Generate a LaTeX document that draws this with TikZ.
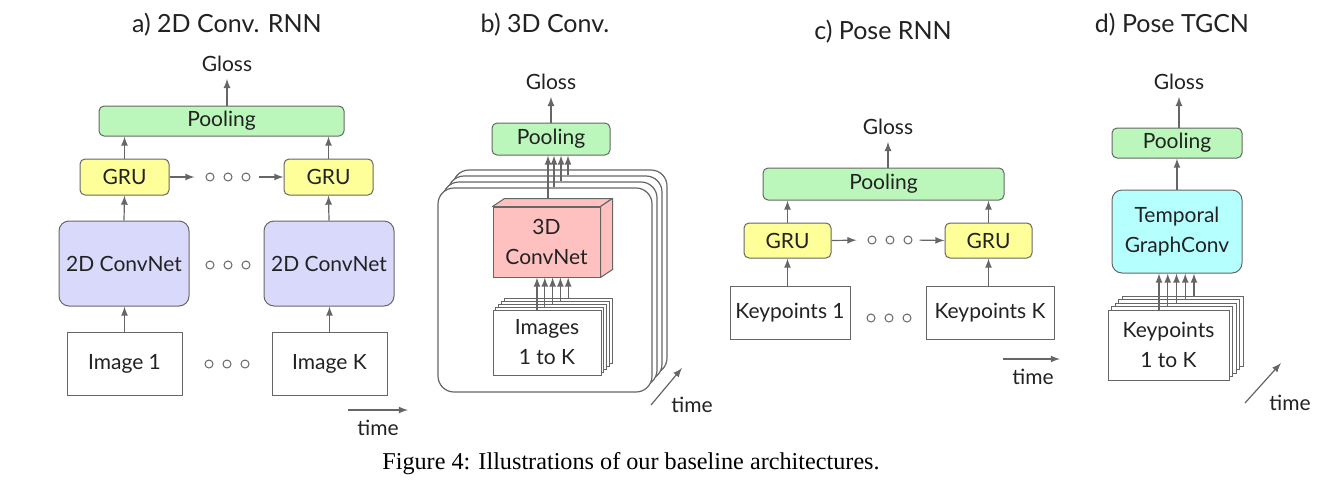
\documentclass[tikz,border=0pt]{standalone}
\usepackage{fontspec}
\setmainfont{Lato}
\newfontfamily\capfont{Liberation Serif}
\usetikzlibrary{calc,arrows}

\definecolor{poolgreen}{RGB}{187,247,187}
\definecolor{gruyellow}{RGB}{255,255,153}
\definecolor{convblue}{RGB}{217,217,252}
\definecolor{convred}{RGB}{255,192,192}
\definecolor{graphcyan}{RGB}{181,255,255}
\definecolor{edgegray}{RGB}{102,102,102}
\definecolor{txt}{RGB}{34,34,34}

\begin{document}
\begin{tikzpicture}[x=0.5pt,y=-0.5pt,
    every node/.style={font=\fontsize{10.5}{15}\selectfont,text=txt},
    box/.style={draw=edgegray,line width=0.5pt,inner sep=0pt,align=center},
    pool/.style={box,fill=poolgreen,rounded corners=2.5pt,minimum height=15pt},
    gru/.style={box,fill=gruyellow,rounded corners=2.5pt,minimum width=44.5pt,minimum height=18pt},
    convnet/.style={box,fill=convblue,rounded corners=5pt,minimum width=65pt,minimum height=42.5pt},
    inbox/.style={box,fill=white,minimum height=31.5pt},
    sheet/.style={box,fill=white},
    stackframe/.style={draw=edgegray,line width=0.6pt,fill=white,rounded corners=8pt,
      minimum width=107pt,minimum height=102pt,inner sep=0pt},
    ttl/.style={font=\fontsize{12.5}{15}\selectfont},
    ring/.style={circle,draw=edgegray,line width=0.5pt,minimum size=4pt,inner sep=0pt},
    arr/.style={-latex,draw=edgegray,line width=0.6pt}]
                 \useasboundingbox (0,0) rectangle (1318,483);
                 % a) 2D Conv. RNN
                 \node[ttl](ta)at(227,25){a) 2D Conv. RNN};
                 \node(glossa)at(227,64){Gloss};
                 \node[pool,minimum width=122.5pt](poola)at(221.5,121){Pooling};
                 \node[gru](grua1)at(124.5,177){GRU};
                 \node[gru](grua2)at(328.5,177){GRU};
                 \node[convnet](conva1)at(124,263.5){2D ConvNet};
                 \node[convnet](conva2)at(329,263.5){2D ConvNet};
                 \node[inbox,minimum width=57.5pt](imga1)at(124.5,363.5){Image 1};
                 \node[inbox,minimum width=57.5pt](imga2)at(329.5,363.5){Image K};
                 \foreach \i/\x in {1/210,2/228,3/246}{
                   \node[ring](ga\i)at(\x,177){};
                   \node[ring](ca\i)at(\x,265){};
                   \node[ring](ia\i)at(\x-1,364){};
                 }
                 \draw[arr](poola.north-|glossa)--(glossa.south);
                 \draw[arr](grua1.north)--(grua1.north|-poola.south);
                 \draw[arr](grua2.north)--(grua2.north|-poola.south);
                 \draw[arr](conva1.north)--(grua1.south);
                 \draw[arr](conva2.north)--(grua2.south);
                 \draw[arr](imga1.north)--(imga1.north|-conva1.south);
                 \draw[arr](imga2.north)--(imga2.north|-conva2.south);
                 \draw[arr,shorten >=5.5pt](grua1.east)--(ga1.west);
                 \draw[arr,shorten <=4pt](ga3.east)--(grua2.west);
                 \coordinate(ta0)at(348,410);
                 \coordinate(ta1)at(408,410);
                 \draw[arr](ta0)--(ta1);
                 \node(timea)at(378,428){time};
                 % b) 3D Conv.
                 \node[ttl](tb)at(545,25){b) 3D Conv.};
                 \node(glossb)at(551,82){Gloss};
                 \node[pool,minimum width=59pt,minimum height=16pt](poolb)at(551,139){Pooling};
                 \foreach \k in {3,2,1,0}
                   \node[stackframe](frb\k)at(545+5*\k,290-6*\k){};
                 \node[box,fill=convred,minimum width=53.5pt,minimum height=35pt](cnnb)at(546.5,242){3D\\ConvNet};
                 \draw[fill=convred,draw=edgegray,line width=0.5pt,line join=round](cnnb.north west)--++(12,-8)--($(cnnb.north east)+(12,-8)$)--(cnnb.north east)--cycle;
                 \draw[fill=convred,draw=edgegray,line width=0.5pt,line join=round](cnnb.north east)--++(12,-8)--($(cnnb.south east)+(12,-8)$)--(cnnb.south east)--cycle;
                 \foreach \k in {4,...,1}
                   \node[sheet,minimum width=54pt,minimum height=32.5pt](imgb\k)at(547+2.8*\k,342.5-3*\k){};
                 \node[sheet,minimum width=54pt,minimum height=32.5pt](imgb0)at(547,342.5){Images\\1 to K};
                 \foreach \k in {0,...,4}
                   \draw[arr]([xshift={(-5+2.5*\k)*1pt}]imgb\k.north)coordinate(sb\k)--(sb\k|-cnnb.south);
                 \coordinate(cnntop)at($(cnnb.north)+(1.5,-8)$);
                 \draw[arr](cnntop)--(cnntop|-poolb.south);
                 \foreach \k in {0,1,2}
                   \draw[arr]([xshift={(4.5+\k)*1pt}]frb\k.north)coordinate(sf\k)--(sf\k|-poolb.south);
                 \draw[arr](poolb.north)--(glossb.south);
                 \coordinate(tb0)at(651,405);
                 \coordinate(tb1)at(682,368);
                 \draw[arr](tb0)--(tb1);
                 \node(timeb)at(692,405){time};
                 % c) Pose RNN
                 \node[ttl](tc)at(883,32){c) Pose RNN};
                 \node(glossc)at(888,127){Gloss};
                 \node[pool,minimum width=120.5pt,minimum height=16pt](poolc)at(883.5,184){Pooling};
                 \node[gru,minimum width=43.5pt,minimum height=17.5pt](gruc1)at(787.5,240.5){GRU};
                 \node[gru,minimum width=43.5pt,minimum height=17.5pt](gruc2)at(988.5,240.5){GRU};
                 \node[inbox,minimum width=60pt,minimum height=26.5pt](kpc1)at(790,312.5){Keypoints 1};
                 \node[inbox,minimum width=64pt,minimum height=26.5pt](kpc2)at(990,312.5){Keypoints K};
                 \foreach \i/\x in {1/872,2/890,3/908}{
                   \node[ring](gc\i)at(\x,240){};
                   \node[ring](kc\i)at(\x-1,318){};
                 }
                 \draw[arr](poolc.north-|glossc)--(glossc.south);
                 \draw[arr](gruc1.north)--(gruc1.north|-poolc.south);
                 \draw[arr](gruc2.north)--(gruc2.north|-poolc.south);
                 \draw[arr](kpc1.north-|gruc1)--(gruc1.south);
                 \draw[arr](kpc2.north-|gruc2)--(gruc2.south);
                 \draw[arr,shorten >=5.5pt](gruc1.east)--(gc1.west);
                 \draw[arr,shorten <=3.5pt](gc3.east)--(gruc2.west);
                 \coordinate(tc0)at(1003,359);
                 \coordinate(tc1)at(1060,359);
                 \draw[arr](tc0)--(tc1);
                 \node(timec)at(1033,377){time};
                 % d) Pose TGCN
                 \node[ttl](td)at(1172,25){d) Pose TGCN};
                 \node(glossd)at(1179,82){Gloss};
                 \node[pool,minimum width=65pt](poold)at(1177,143){Pooling};
                 \node[box,fill=graphcyan,rounded corners=5pt,minimum width=65pt,minimum height=41.5pt](tgcd)at(1177,231.5){Temporal\\GraphConv};
                 \foreach \k in {4,...,1}
                   \node[sheet,minimum width=60.5pt,minimum height=35pt](kpd\k)at(1168.5+3.6*\k,345-3.5*\k){};
                 \node[sheet,minimum width=60.5pt,minimum height=35pt](kpd0)at(1168.5,345){Keypoints\\1 to K};
                 \foreach \k in {0,...,4}
                   \draw[arr]([xshift={(-4.75+2.575*\k)*1pt}]kpd\k.north)coordinate(sd\k)--(sd\k|-tgcd.south);
                 \draw[arr](poold.north-|glossd)--(glossd.south);
                 \draw[arr](tgcd.north)--(poold.south);
                 \coordinate(td0)at(1245,403);
                 \coordinate(td1)at(1281,363);
                 \draw[arr](td0)--(td1);
                 \node(timed)at(1290,403){time};
                 \node[font=\capfont\fontsize{12.1}{15}\selectfont,text=black](cap)at(631,464){Figure 4: Illustrations of our baseline architectures.};
               \end{tikzpicture}
\end{document}
